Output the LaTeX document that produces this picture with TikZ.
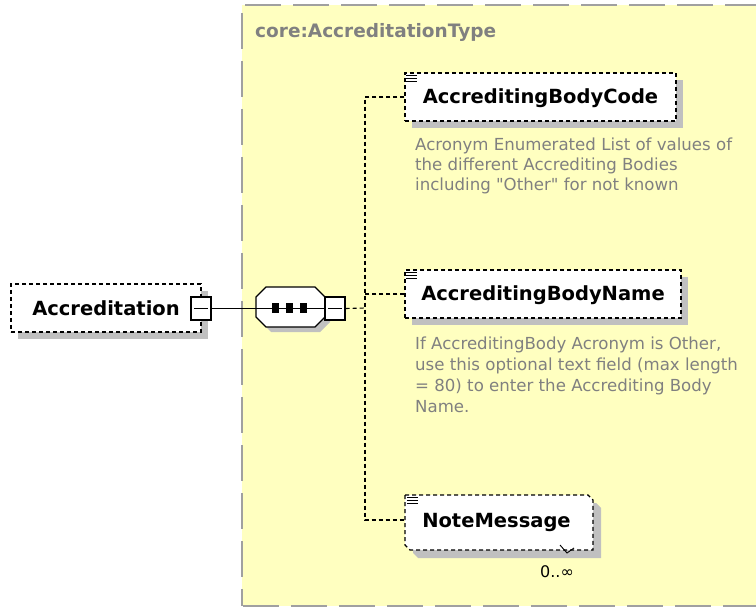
\documentclass[tikz,border=0pt]{standalone}
\usepackage{fontspec}
\setmainfont{DejaVu Sans}
\usetikzlibrary{shadows}
\definecolor{ybg}{HTML}{FFFFC0}
\definecolor{ybord}{HTML}{A0A0A0}
\definecolor{shad}{HTML}{C0C0C0}
\definecolor{desccol}{HTML}{808080}
\begin{document}
\begin{tikzpicture}[x=1pt,y=-1pt,
  elem/.style={draw, fill=white, line width=1.1pt, dash pattern=on 4pt off 3pt,
    inner sep=0pt, font=\fontsize{19.5}{23}\selectfont\bfseries,
    text height=14pt, text depth=0pt, minimum height=48pt,
    general shadow={fill=shad, shadow xshift=7pt, shadow yshift=-7pt}},
  plainelem/.style={inner sep=0pt, font=\fontsize{19.5}{23}\selectfont\bfseries,
    text height=14pt, text depth=0pt},
  btn/.style={draw, fill=white, line width=1.1pt, minimum width=20pt, minimum height=23pt, inner sep=0pt},
  conn/.style={line width=1.1pt, dash pattern=on 4pt off 3pt},
  desc/.style={inner sep=0pt, align=left, text=desccol, font=\fontsize{16.6}{20}\selectfont},
  border/.style={ybord, line width=2pt, dash pattern=on 36pt off 12pt}]
\useasboundingbox (0,0) rectangle (756,607);
\clip (0,0) rectangle (756,607);

% complex type area
\fill[ybg] (242,5) rectangle (760,606);
\draw[border] (245,5) -- (760,5);
\draw[border] (242,13) -- (242,606);
\draw[border] (243,606) -- (760,606);
\node[anchor=base west, inner sep=0pt, text=desccol, font=\fontsize{18.5}{22}\selectfont\bfseries] (typelabel) at (255,38) {core:AccreditationType};

% root element
\node[elem, minimum width=190pt] (acc) at (106,308) {Accreditation\hspace{9pt}};
\node[btn] (accbtn) at (201,308.5) {};
\draw[line width=1.1pt] ([xshift=4pt]accbtn.west) -- ([xshift=-4pt]accbtn.east);

% sequence compositor
\node[minimum width=69pt, minimum height=40pt, inner sep=0pt] (seq) at (290.5,307) {};
\fill[shad] (271,292) -- (320,292) -- (330,302) -- (330,322) -- (320,332) -- (271,332) -- (261,322) -- (261,302) -- cycle;
\draw[line width=1.1pt, fill=white] (266,287) -- (315,287) -- (325,297) -- (325,317) -- (315,327) -- (266,327) -- (256,317) -- (256,297) -- cycle;
\node[btn] (seqbtn) at (335,308.5) {};
\draw[line width=1.1pt] ([xshift=4pt]seqbtn.west) -- ([xshift=-4pt]seqbtn.east);
\draw[line width=1.1pt] (accbtn.east) -- (seqbtn.west);
\fill (272,303) rectangle (279,313);
\fill (286,303) rectangle (293,313);
\fill (300,303) rectangle (307,313);

% child elements
\node[elem, minimum width=271pt] (code) at (540.5,97) {AccreditingBodyCode};
\node[elem, minimum width=276pt] (name) at (543,294) {AccreditingBodyName};
\node[plainelem, minimum width=183pt, minimum height=50pt] (note) at (496.5,520) {};
\fill[shad] (413,503) -- (596,503) -- (601,508) -- (601,558) -- (418,558) -- (413,553) -- cycle;
\draw[line width=1.1pt, dash pattern=on 4pt off 3pt, fill=white] (405,495) -- (588,495) -- (593,500) -- (593,550) -- (410,550) -- (405,545) -- cycle;
\node[plainelem] (notetext) at (note.center) {NoteMessage};
\draw[line width=0.9pt] (560,545) -- (567,553) -- (574,548);
\node[anchor=base, inner sep=0pt, font=\fontsize{16}{20}\selectfont] (occ) at (557,577) {0..∞};

\foreach \n in {code,name,note}{
  \foreach \d in {3,6,9}{
    \draw[line width=1pt] ([xshift=2pt,yshift=-\d pt]\n.north west) -- ++(11,0);
  }
}

% connectors
\coordinate (junc) at (365,308);
\draw[conn] (seqbtn.east) -- (junc);
\draw[conn] (code.west) -| (junc) |- (note.west);
\draw[conn] (name.west) -- (name.west -| junc);

% annotations (base anchor = baseline of last line)
\node[desc, anchor=base west] (codedesc) at (415,191) {Acronym Enumerated List of values of\\the different Accrediting Bodies\\including \textquotedbl Other\textquotedbl{} for not known};
\node[desc, anchor=base west, font=\fontsize{16.6}{21}\selectfont] (namedesc) at (415,412) {If AccreditingBody Acronym is Other,\\use this optional text field (max length\\= 80) to enter the Accrediting Body\\Name.};
\end{tikzpicture}
\end{document}
